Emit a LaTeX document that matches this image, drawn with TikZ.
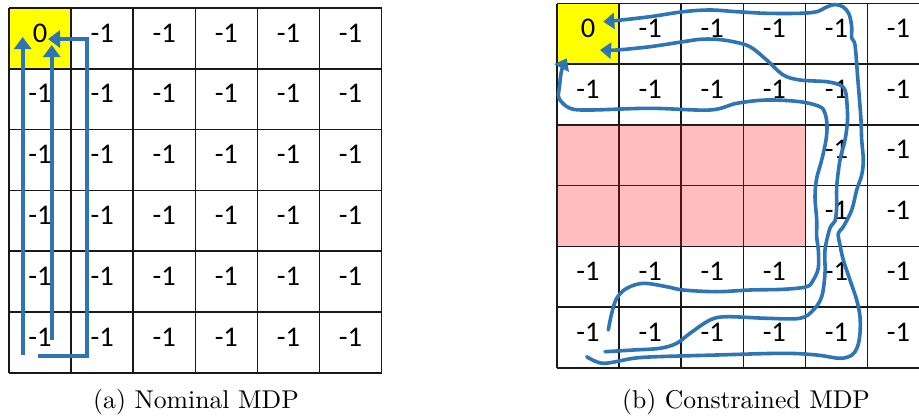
\documentclass[tikz,border=0pt]{standalone}
\usepackage{fontspec}
\newfontfamily\cellfont{Carlito}
\usetikzlibrary{arrows.meta}
\definecolor{arrowblue}{RGB}{46,117,182}
\definecolor{goalyellow}{RGB}{255,255,0}
\tikzset{
  gridline/.style={line width=1.6pt, draw=black!90},
  cellnum/.style={font=\cellfont\fontsize{28.5}{32}\selectfont, inner sep=0pt, yshift=5.5pt},
  caption/.style={inner sep=0pt, anchor=base},
  bluearrow/.style={draw=arrowblue, line width=4pt, -{Triangle[length=12pt,width=17pt]}},
  freehand/.style={draw=arrowblue, line width=3.6pt, line cap=round, line join=round,
     -{Triangle[length=11pt,width=16pt]}},
}
\newcommand{\captext}[1]{\scalebox{2.57}{\fontsize{10}{12}\selectfont #1}}
\begin{document}
\begin{tikzpicture}[x=1pt,y=-1pt]
\clip (0,0) rectangle (919,416);
\fill[white] (0,0) rectangle (919,416);
% ---------- left grid ----------
\def\lx{9}\def\ly{8}\def\cw{62.1}\def\rh{60.8}
\fill[goalyellow] (\lx,\ly) rectangle ++(\cw,\rh);
\foreach \i in {0,...,6}{
  \draw[gridline] (\lx+\i*\cw,\ly) -- (\lx+\i*\cw,\ly+6*\rh);
  \draw[gridline] (\lx,\ly+\i*\rh) -- (\lx+6*\cw,\ly+\i*\rh);
}
\foreach \r in {0,...,5}{
  \foreach \c in {0,...,5}{
    \pgfmathtruncatemacro{\goal}{(\r==0)&&(\c==0)}
    \ifnum\goal=1
      \node[cellnum] (L\r\c) at ({\lx+(\c+0.5)*\cw},{\ly+(\r+0.5)*\rh}) {0};
    \else
      \node[cellnum] (L\r\c) at ({\lx+(\c+0.5)*\cw},{\ly+(\r+0.5)*\rh}) {-1};
    \fi
  }
}
% ---------- right grid ----------
\def\rx{557}\def\ry{3.5}\def\rch{60.7}
\fill[goalyellow] (\rx,\ry) rectangle ++(\cw,\rch);
\foreach \i in {0,...,7}{
  \draw[gridline] (\rx+\i*\cw,\ry) -- (\rx+\i*\cw,\ry+6*\rch);
}
\foreach \i in {0,...,6}{
  \draw[gridline] (\rx,\ry+\i*\rch) -- (\rx+7*\cw,\ry+\i*\rch);
}
\fill[red, fill opacity=0.26] (\rx,\ry+2*\rch) rectangle (\rx+4*\cw,\ry+4*\rch);
\foreach \r in {0,...,5}{
  \foreach \c in {0,...,5}{
    \pgfmathtruncatemacro{\goal}{(\r==0)&&(\c==0)}
    \pgfmathtruncatemacro{\bad}{((\r==2)||(\r==3))&&(\c<4)}
    \ifnum\goal=1
      \node[cellnum] (R\r\c) at ({\rx+(\c+0.5)*\cw},{\ry+(\r+0.5)*\rch}) {0};
    \else\ifnum\bad=0
      \node[cellnum] (R\r\c) at ({\rx+(\c+0.5)*\cw},{\ry+(\r+0.5)*\rch}) {-1};
    \fi\fi
  }
}
% ---------- left arrows ----------
\coordinate (a1s) at (22.7,355);
\coordinate (a1t) at (22.7,37);
\coordinate (a2s) at (51.7,340);
\coordinate (a2t) at (51.7,45);
\coordinate (a3s) at (38,356);
\coordinate (a3c1) at (86.7,356);
\coordinate (a3c2) at (86.7,39);
\coordinate (a3t) at (48,39);
\draw[bluearrow] (a1s) -- (a1t);
\draw[bluearrow] (a2s) -- (a2t);
\draw[bluearrow, line join=miter] (a3s) -- (a3c1) -- (a3c2) -- (a3t);
% ---------- right freehand paths ----------
\draw[freehand] plot[smooth, tension=0.55] coordinates {
 (586.7,356.7) (603.3,363.3) (633.3,358.3) (656.7,356.7) (716.7,355) (783.3,353.3)
 (816.7,355) (840,358.3) (852,355) (857.5,346.7) (860,333.3) (860,316.7) (856.7,300)
 (850,280) (843.3,260) (840,245) (838.3,233.3) (843.3,226.7) (851.7,210) (856.7,190)
 (861.7,175) (863.3,160) (861.7,140) (861,120) (859.5,100) (857.5,75) (855,45)
 (851.7,38) (851.7,26.7) (849,14) (843.3,7) (835,4.5) (826.7,7) (816.7,11.7)
 (800,13.3) (766.7,13.3) (736.7,11.7) (710,10) (683.3,11.7) (650,16.7) (616.7,20.5) (603.3,21.7)};
\draw[freehand] plot[smooth, tension=0.55] coordinates {
 (605,351.7) (633.3,350) (660,348.3) (676.7,343.3) (690,333.3) (710,320) (726.7,316.7)
 (766.7,318.3) (800,318.3) (813.3,310) (821.7,296.7) (825,273.3) (825,250) (830,228)
 (835,221) (836.7,206.7) (836.7,186.7) (840,160) (845,140) (847.5,120) (846.7,100)
 (845,90) (840,85) (826.7,81.7) (800,80) (783.3,75) (766.7,60) (750,46.7) (733.3,41.7)
 (716.7,39.3) (700,39.3) (683.3,41.7) (650,46.7) (616.7,50) (600,50)};
\draw[freehand] plot[smooth, tension=0.55] coordinates {
 (608.3,330) (611.7,313.3) (616.7,298.3) (626.7,288.3) (643.3,283.3) (666.7,286.7)
 (683.3,290) (716.7,291.7) (750,290) (783.3,289.3) (806.7,286.7) (813.3,280) (818.3,268)
 (818.3,250) (816.7,236.7) (816.7,220) (815,196.7) (816.7,178.3) (821.7,160) (826,140)
 (827,125) (825,113.3) (820,106.7) (800,101.7) (766.7,100) (736.7,103.3) (710,110)
 (650,108.3) (590,110) (570,108.3) (559,98.3) (559.5,86.7) (561.7,70) (566.7,58.3)};
% ---------- captions ----------
\node[caption] (capa) at (196,408.3) {\captext{(a) Nominal MDP}};
\node[caption] (capb) at (746,408.3) {\captext{(b) Constrained MDP}};
\end{tikzpicture}
\end{document}
